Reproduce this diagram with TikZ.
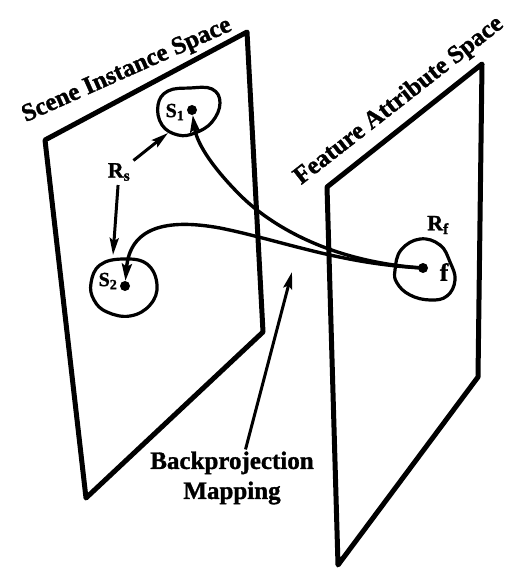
\documentclass[tikz,border=0pt]{standalone}
\usepackage{fontspec}
\setmainfont{Liberation Serif}[BoldFeatures={FakeBold=1.3}]
\usetikzlibrary{arrows.meta}
\begin{document}
\begin{tikzpicture}[x=1pt,y=-1pt,
 plane/.style={line width=5pt, line join=round},
 blob/.style={line width=3.2pt},
 conn/.style={line width=3.4pt, -{Stealth[length=17pt,width=10pt,inset=3pt]}},
 ptr/.style={line width=3pt, -{Stealth[length=17pt,width=9pt,inset=3pt]}},
 dot/.style={circle, fill, inner sep=0pt, minimum size=10pt},
 big/.style={font=\fontsize{25}{30}\selectfont\bfseries, inner sep=0pt},
 lbl/.style={font=\fontsize{22}{22}\selectfont\bfseries, inner sep=0pt},
 slbl/.style={font=\fontsize{20}{20}\selectfont\bfseries, inner sep=0pt},
]
\useasboundingbox (0,0) rectangle (507,569);
% planes
\draw[plane] (45,140) -- (247,32) -- (263,332) -- (86,498) -- cycle;
\draw[plane] (327,187) -- (482,64) -- (478,377) -- (338,565) -- cycle;
% plane titles
\node[big, rotate=24] (sis) at (127,71) {Scene Instance Space};
\node[big, rotate=38] (fas) at (399,101) {Feature Attribute Space};
% blobs
\draw[blob] plot[smooth cycle, tension=0.7] coordinates {(158,105) (168,91) (190,88) (212,89) (220,103) (212,122) (195,133) (178,135) (162,125)};
\draw[blob] plot[smooth cycle, tension=0.7] coordinates {(91,283) (100,265) (123,259) (147,264) (157,285) (150,305) (130,316) (107,312) (94,300)};
\draw[blob] plot[smooth cycle, tension=0.7] coordinates {(395,270) (401,250) (420,239) (440,245) (450,262) (455,280) (447,296) (430,300) (410,295) (397,283)};
% dots and labels
\node[dot] (s1) at (192,110) {};
\node[dot] (s2) at (125,286) {};
\node[dot] (f) at (423,268) {};
\node[slbl] (s1l) at (175,112) {S\textsubscript{1}};
\node[slbl] (s2l) at (108,281) {S\textsubscript{2}};
\node[lbl, font=\fontsize{25}{25}\selectfont\bfseries] (fl) at (444,272) {f};
\node[lbl] (Rs) at (119,172) {R\textsubscript{s}};
\node[lbl] (Rf) at (438,225) {R\textsubscript{f}};
\coordinate (a1) at (168,133);
\coordinate (a2) at (113,255);
\coordinate (bpt) at (292,272);
\node[big, align=center] (bp) at (232,478) {Backprojection\\Mapping};
% connectors
\draw[conn] (f.center) .. controls (330,262) and (270,225) .. (240,195) .. controls (215,170) and (197,145) .. (s1);
\draw[conn] (f.center) .. controls (340,264) and (280,240) .. (220,228) .. controls (165,218) and (130,228) .. (s2);
\draw[ptr, shorten <=4pt] (Rs) -- (a1);
\draw[ptr, shorten <=4pt] (Rs) -- (a2);
\draw[ptr, shorten <=2pt] ([xshift=13pt]bp.north) -- (bpt);
\end{tikzpicture}
\end{document}
